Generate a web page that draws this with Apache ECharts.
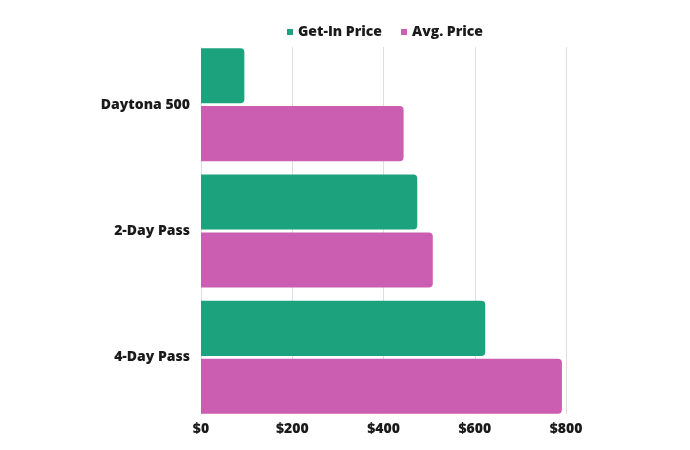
<!DOCTYPE html>
<html>
<head>
<meta charset="utf-8">
<script src="https://cdn.jsdelivr.net/npm/echarts@6/dist/echarts.min.js"></script>
<style>
  html, body { margin: 0; padding: 0; background: #fff; }
  #chart { width: 690px; height: 450px; }
</style>
</head>
<body>
<div id="chart"></div>
<script>
// data
var categories = ['Daytona 500', '2-Day Pass', '4-Day Pass'];
var getInPrice = [95, 474, 623];
var avgPrice = [444, 508, 791];
var xTicks = [0, 200, 400, 600, 800];

var chart = echarts.init(document.getElementById('chart'));
var font = '"Open Sans", "Noto Sans", sans-serif';

var option = {
    animation: false,
    legend: {
        top: 20,
        left: 282,
        icon: 'rect',
        itemWidth: 6,
        itemHeight: 6,
        itemGap: 19,
        textStyle: { fontFamily: font, fontWeight: 800, fontSize: 14, color: '#1a1a1a' },
        data: ['Get-In Price', 'Avg. Price']
    },
    grid: [
        // bars
        { left: 201, right: 124, top: 41.5, bottom: 29.5 },
        // gridlines + labels (shorter, like the original)
        { left: 201, right: 124, top: 47, bottom: 36 }
    ],
    xAxis: [
        {
            gridIndex: 0, type: 'value',
            min: xTicks[0], max: xTicks[xTicks.length - 1], interval: 200,
            axisLine: { show: false }, axisTick: { show: false },
            axisLabel: { show: false }, splitLine: { show: false }
        },
        {
            gridIndex: 1, type: 'value',
            min: xTicks[0], max: xTicks[xTicks.length - 1], interval: 200,
            axisLine: { show: false }, axisTick: { show: false },
            axisLabel: {
                margin: 8,
                fontFamily: font, fontWeight: 800, fontSize: 14, color: '#1a1a1a',
                formatter: function (v) { return '$' + v; }
            },
            splitLine: { show: true, lineStyle: { color: '#dedede', width: 1 } }
        }
    ],
    yAxis: [
        {
            gridIndex: 0, type: 'category', inverse: true,
            data: categories,
            axisLine: { show: false }, axisTick: { show: false },
            axisLabel: { margin: 11, fontFamily: font, fontWeight: 800, fontSize: 14, color: '#1a1a1a' }
        },
        {
            gridIndex: 1, type: 'value', show: false
        }
    ],
    series: [
        {
            name: 'Get-In Price', type: 'bar',
            xAxisIndex: 0, yAxisIndex: 0,
            data: getInPrice,
            barCategoryGap: '10.6%', barGap: '5%',
            itemStyle: { color: '#1ca37e', borderRadius: [0, 4, 4, 0] }
        },
        {
            name: 'Avg. Price', type: 'bar',
            xAxisIndex: 0, yAxisIndex: 0,
            data: avgPrice,
            barCategoryGap: '10.6%', barGap: '5%',
            itemStyle: { color: '#cb5eb0', borderRadius: [0, 4, 4, 0] }
        }
    ]
};
chart.setOption(option);
</script>
</body>
</html>
